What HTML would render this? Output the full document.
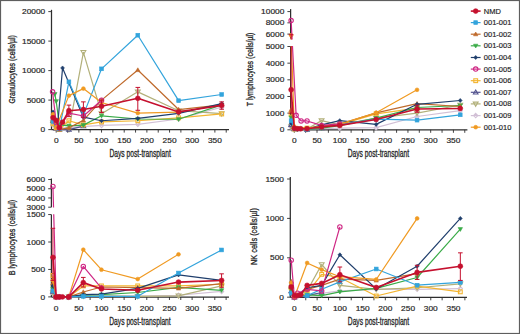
<!DOCTYPE html>
<html><head><meta charset="utf-8"><style>
html,body{margin:0;padding:0;background:#fff;}
body{width:520px;height:334px;overflow:hidden;}
svg{display:block;font-family:"Liberation Sans", sans-serif;}
</style></head><body>
<svg width="520" height="334" viewBox="0 0 520 334">
<rect x="0" y="0" width="520" height="334" fill="#fff"/>
<line x1="51.5" y1="9.799999999999994" x2="51.5" y2="129.6" stroke="#2e2e2e" stroke-width="1.25"/>
<line x1="48.3" y1="129.60" x2="51.5" y2="129.60" stroke="#2e2e2e" stroke-width="0.9"/>
<text transform="translate(45.20,132.25) scale(1.13,1)" x="0" y="0" font-size="7.4" text-anchor="end" fill="#262626" stroke="#262626" stroke-width="0.18">0</text>
<line x1="48.3" y1="100.10" x2="51.5" y2="100.10" stroke="#2e2e2e" stroke-width="0.9"/>
<text transform="translate(45.20,102.75) scale(1.13,1)" x="0" y="0" font-size="7.4" text-anchor="end" fill="#262626" stroke="#262626" stroke-width="0.18">5000</text>
<line x1="48.3" y1="70.60" x2="51.5" y2="70.60" stroke="#2e2e2e" stroke-width="0.9"/>
<text transform="translate(45.20,73.25) scale(1.13,1)" x="0" y="0" font-size="7.4" text-anchor="end" fill="#262626" stroke="#262626" stroke-width="0.18">10000</text>
<line x1="48.3" y1="41.10" x2="51.5" y2="41.10" stroke="#2e2e2e" stroke-width="0.9"/>
<text transform="translate(45.20,43.75) scale(1.13,1)" x="0" y="0" font-size="7.4" text-anchor="end" fill="#262626" stroke="#262626" stroke-width="0.18">15000</text>
<line x1="48.3" y1="11.60" x2="51.5" y2="11.60" stroke="#2e2e2e" stroke-width="0.9"/>
<text transform="translate(45.20,14.25) scale(1.13,1)" x="0" y="0" font-size="7.4" text-anchor="end" fill="#262626" stroke="#262626" stroke-width="0.18">20000</text>
<line x1="51.5" y1="129.6" x2="229" y2="129.6" stroke="#2e2e2e" stroke-width="1.25"/>
<line x1="56.20" y1="129.6" x2="56.20" y2="132.6" stroke="#2e2e2e" stroke-width="0.9"/>
<text transform="translate(56.20,143.3) scale(1.13,1)" x="0" y="0" font-size="7.4" text-anchor="middle" fill="#262626" stroke="#262626" stroke-width="0.18">0</text>
<line x1="67.53" y1="129.6" x2="67.53" y2="132.6" stroke="#2e2e2e" stroke-width="0.9"/>
<line x1="78.87" y1="129.6" x2="78.87" y2="132.6" stroke="#2e2e2e" stroke-width="0.9"/>
<text transform="translate(78.87,143.3) scale(1.13,1)" x="0" y="0" font-size="7.4" text-anchor="middle" fill="#262626" stroke="#262626" stroke-width="0.18">50</text>
<line x1="90.21" y1="129.6" x2="90.21" y2="132.6" stroke="#2e2e2e" stroke-width="0.9"/>
<line x1="101.54" y1="129.6" x2="101.54" y2="132.6" stroke="#2e2e2e" stroke-width="0.9"/>
<text transform="translate(101.54,143.3) scale(1.13,1)" x="0" y="0" font-size="7.4" text-anchor="middle" fill="#262626" stroke="#262626" stroke-width="0.18">100</text>
<line x1="112.88" y1="129.6" x2="112.88" y2="132.6" stroke="#2e2e2e" stroke-width="0.9"/>
<line x1="124.21" y1="129.6" x2="124.21" y2="132.6" stroke="#2e2e2e" stroke-width="0.9"/>
<text transform="translate(124.21,143.3) scale(1.13,1)" x="0" y="0" font-size="7.4" text-anchor="middle" fill="#262626" stroke="#262626" stroke-width="0.18">150</text>
<line x1="135.55" y1="129.6" x2="135.55" y2="132.6" stroke="#2e2e2e" stroke-width="0.9"/>
<line x1="146.88" y1="129.6" x2="146.88" y2="132.6" stroke="#2e2e2e" stroke-width="0.9"/>
<text transform="translate(146.88,143.3) scale(1.13,1)" x="0" y="0" font-size="7.4" text-anchor="middle" fill="#262626" stroke="#262626" stroke-width="0.18">200</text>
<line x1="158.22" y1="129.6" x2="158.22" y2="132.6" stroke="#2e2e2e" stroke-width="0.9"/>
<line x1="169.55" y1="129.6" x2="169.55" y2="132.6" stroke="#2e2e2e" stroke-width="0.9"/>
<text transform="translate(169.55,143.3) scale(1.13,1)" x="0" y="0" font-size="7.4" text-anchor="middle" fill="#262626" stroke="#262626" stroke-width="0.18">250</text>
<line x1="180.88" y1="129.6" x2="180.88" y2="132.6" stroke="#2e2e2e" stroke-width="0.9"/>
<line x1="192.22" y1="129.6" x2="192.22" y2="132.6" stroke="#2e2e2e" stroke-width="0.9"/>
<text transform="translate(192.22,143.3) scale(1.13,1)" x="0" y="0" font-size="7.4" text-anchor="middle" fill="#262626" stroke="#262626" stroke-width="0.18">300</text>
<line x1="203.56" y1="129.6" x2="203.56" y2="132.6" stroke="#2e2e2e" stroke-width="0.9"/>
<line x1="214.89" y1="129.6" x2="214.89" y2="132.6" stroke="#2e2e2e" stroke-width="0.9"/>
<text transform="translate(214.89,143.3) scale(1.13,1)" x="0" y="0" font-size="7.4" text-anchor="middle" fill="#262626" stroke="#262626" stroke-width="0.18">350</text>
<line x1="226.23" y1="129.6" x2="226.23" y2="132.6" stroke="#2e2e2e" stroke-width="0.9"/>
<text transform="translate(140.08,156.8) scale(0.6706652126499455,1)" x="0" y="0" font-size="10.0" text-anchor="middle" fill="#262626" stroke="#262626" stroke-width="0.3">Days post-transplant</text>
<text transform="translate(15.0,69.4) rotate(-90) scale(0.7680233210001122,1)" x="0" y="0" font-size="9.0" text-anchor="middle" fill="#262626" stroke="#262626" stroke-width="0.3">Granulocytes (cells/µl)</text>
<path d="M53.03,124.88 L56.20,128.42 L101.54,125.47 L137.81,124.29 L178.62,118.98 L221.69,107.18" fill="none" stroke="#d2c0d6" stroke-width="1.2" stroke-linejoin="round"/>
<path d="M53.03,122.67L55.13,124.88L53.03,127.08L50.93,124.88Z" fill="none" stroke="#d2c0d6" stroke-width="1.1"/>
<path d="M56.20,126.21L58.30,128.42L56.20,130.62L54.10,128.42Z" fill="none" stroke="#d2c0d6" stroke-width="1.1"/>
<path d="M101.54,123.27L103.64,125.47L101.54,127.67L99.44,125.47Z" fill="none" stroke="#d2c0d6" stroke-width="1.1"/>
<path d="M137.81,122.08L139.91,124.29L137.81,126.49L135.71,124.29Z" fill="none" stroke="#d2c0d6" stroke-width="1.1"/>
<path d="M178.62,116.77L180.72,118.98L178.62,121.18L176.52,118.98Z" fill="none" stroke="#d2c0d6" stroke-width="1.1"/>
<path d="M221.69,104.97L223.79,107.18L221.69,109.38L219.59,107.18Z" fill="none" stroke="#d2c0d6" stroke-width="1.1"/>
<path d="M53.03,122.52 L56.20,127.83 L68.90,129.60 L83.40,52.31 L101.54,113.67 L137.81,91.84 L178.62,110.72 L221.69,113.67" fill="none" stroke="#b2b07a" stroke-width="1.2" stroke-linejoin="round"/>
<path d="M53.03,124.94L55.45,120.76L50.61,120.76Z" fill="none" stroke="#b2b07a" stroke-width="1.1"/>
<path d="M56.20,130.25L58.62,126.07L53.78,126.07Z" fill="none" stroke="#b2b07a" stroke-width="1.1"/>
<path d="M68.90,132.02L71.32,127.84L66.48,127.84Z" fill="none" stroke="#b2b07a" stroke-width="1.1"/>
<path d="M83.40,54.73L85.82,50.55L80.98,50.55Z" fill="none" stroke="#b2b07a" stroke-width="1.1"/>
<path d="M101.54,116.09L103.96,111.91L99.12,111.91Z" fill="none" stroke="#b2b07a" stroke-width="1.1"/>
<path d="M137.81,94.26L140.23,90.08L135.39,90.08Z" fill="none" stroke="#b2b07a" stroke-width="1.1"/>
<path d="M178.62,113.14L181.04,108.96L176.20,108.96Z" fill="none" stroke="#b2b07a" stroke-width="1.1"/>
<path d="M221.69,116.09L224.11,111.91L219.27,111.91Z" fill="none" stroke="#b2b07a" stroke-width="1.1"/>
<path d="M53.03,120.75 L56.20,128.42 L59.37,129.60 L68.90,129.60 L83.40,126.06" fill="none" stroke="#55558f" stroke-width="1.2" stroke-linejoin="round"/>
<path d="M53.03,118.44L55.34,122.43L50.72,122.43Z" fill="none" stroke="#55558f" stroke-width="1.1"/>
<path d="M56.20,126.11L58.51,130.10L53.89,130.10Z" fill="none" stroke="#55558f" stroke-width="1.1"/>
<path d="M59.37,127.29L61.68,131.28L57.06,131.28Z" fill="none" stroke="#55558f" stroke-width="1.1"/>
<path d="M68.90,127.29L71.21,131.28L66.59,131.28Z" fill="none" stroke="#55558f" stroke-width="1.1"/>
<path d="M83.40,123.75L85.71,127.74L81.09,127.74Z" fill="none" stroke="#55558f" stroke-width="1.1"/>
<path d="M53.03,123.70 L56.20,127.83 L59.37,129.60 L68.90,120.75 L83.40,124.88 L101.54,121.93 L137.81,120.75 L178.62,117.80 L221.69,113.96" fill="none" stroke="#f3b531" stroke-width="1.2" stroke-linejoin="round"/>
<rect x="51.13" y="121.80" width="3.80" height="3.80" fill="none" stroke="#f3b531" stroke-width="1.1"/>
<rect x="54.30" y="125.93" width="3.80" height="3.80" fill="none" stroke="#f3b531" stroke-width="1.1"/>
<rect x="57.47" y="127.70" width="3.80" height="3.80" fill="none" stroke="#f3b531" stroke-width="1.1"/>
<rect x="67.00" y="118.85" width="3.80" height="3.80" fill="none" stroke="#f3b531" stroke-width="1.1"/>
<rect x="81.50" y="122.98" width="3.80" height="3.80" fill="none" stroke="#f3b531" stroke-width="1.1"/>
<rect x="99.64" y="120.03" width="3.80" height="3.80" fill="none" stroke="#f3b531" stroke-width="1.1"/>
<rect x="135.91" y="118.85" width="3.80" height="3.80" fill="none" stroke="#f3b531" stroke-width="1.1"/>
<rect x="176.72" y="115.90" width="3.80" height="3.80" fill="none" stroke="#f3b531" stroke-width="1.1"/>
<rect x="219.79" y="112.06" width="3.80" height="3.80" fill="none" stroke="#f3b531" stroke-width="1.1"/>
<path d="M54.84,94.20 L56.20,101.28 L59.37,124.88 L68.90,125.88 L83.40,125.12 L101.54,115.79 L137.81,118.98 L178.62,119.27 L221.69,104.82" fill="none" stroke="#3aab48" stroke-width="1.2" stroke-linejoin="round"/>
<path d="M54.84,96.40L57.04,92.60L52.64,92.60Z" fill="#3aab48" stroke="#3aab48" stroke-width="0.6"/>
<path d="M56.20,103.48L58.40,99.68L54.00,99.68Z" fill="#3aab48" stroke="#3aab48" stroke-width="0.6"/>
<path d="M59.37,127.08L61.57,123.28L57.17,123.28Z" fill="#3aab48" stroke="#3aab48" stroke-width="0.6"/>
<path d="M68.90,128.08L71.10,124.28L66.70,124.28Z" fill="#3aab48" stroke="#3aab48" stroke-width="0.6"/>
<path d="M83.40,127.32L85.60,123.52L81.20,123.52Z" fill="#3aab48" stroke="#3aab48" stroke-width="0.6"/>
<path d="M101.54,117.99L103.74,114.19L99.34,114.19Z" fill="#3aab48" stroke="#3aab48" stroke-width="0.6"/>
<path d="M137.81,121.18L140.01,117.38L135.61,117.38Z" fill="#3aab48" stroke="#3aab48" stroke-width="0.6"/>
<path d="M178.62,121.47L180.82,117.67L176.42,117.67Z" fill="#3aab48" stroke="#3aab48" stroke-width="0.6"/>
<path d="M221.69,107.02L223.89,103.22L219.49,103.22Z" fill="#3aab48" stroke="#3aab48" stroke-width="0.6"/>
<path d="M53.03,114.85 L56.20,124.88 L59.37,129.60 L68.90,127.83 L83.40,120.40 L101.54,100.10 L137.81,70.01 L178.62,109.54 L221.69,104.82" fill="none" stroke="#bf6a2c" stroke-width="1.2" stroke-linejoin="round"/>
<path d="M53.03,112.65L55.23,116.45L50.83,116.45Z" fill="#bf6a2c" stroke="#bf6a2c" stroke-width="0.6"/>
<path d="M56.20,122.68L58.40,126.48L54.00,126.48Z" fill="#bf6a2c" stroke="#bf6a2c" stroke-width="0.6"/>
<path d="M59.37,127.40L61.57,131.20L57.17,131.20Z" fill="#bf6a2c" stroke="#bf6a2c" stroke-width="0.6"/>
<path d="M68.90,125.63L71.10,129.43L66.70,129.43Z" fill="#bf6a2c" stroke="#bf6a2c" stroke-width="0.6"/>
<path d="M83.40,118.20L85.60,122.00L81.20,122.00Z" fill="#bf6a2c" stroke="#bf6a2c" stroke-width="0.6"/>
<path d="M101.54,97.90L103.74,101.70L99.34,101.70Z" fill="#bf6a2c" stroke="#bf6a2c" stroke-width="0.6"/>
<path d="M137.81,67.81L140.01,71.61L135.61,71.61Z" fill="#bf6a2c" stroke="#bf6a2c" stroke-width="0.6"/>
<path d="M178.62,107.34L180.82,111.14L176.42,111.14Z" fill="#bf6a2c" stroke="#bf6a2c" stroke-width="0.6"/>
<path d="M221.69,102.62L223.89,106.42L219.49,106.42Z" fill="#bf6a2c" stroke="#bf6a2c" stroke-width="0.6"/>
<path d="M53.03,111.90 L56.20,123.70 L57.56,126.65 L62.55,67.94 L83.40,117.21 L101.54,120.75 L137.81,118.39 L178.62,113.38 L221.69,103.64" fill="none" stroke="#1f3e6c" stroke-width="1.2" stroke-linejoin="round"/>
<path d="M53.03,109.90L54.93,111.90L53.03,113.89L51.13,111.90Z" fill="#1f3e6c" stroke="#1f3e6c" stroke-width="0.6"/>
<path d="M56.20,121.70L58.10,123.70L56.20,125.69L54.30,123.70Z" fill="#1f3e6c" stroke="#1f3e6c" stroke-width="0.6"/>
<path d="M57.56,124.65L59.46,126.65L57.56,128.64L55.66,126.65Z" fill="#1f3e6c" stroke="#1f3e6c" stroke-width="0.6"/>
<path d="M62.55,65.95L64.45,67.94L62.55,69.94L60.65,67.94Z" fill="#1f3e6c" stroke="#1f3e6c" stroke-width="0.6"/>
<path d="M83.40,115.21L85.30,117.21L83.40,119.20L81.50,117.21Z" fill="#1f3e6c" stroke="#1f3e6c" stroke-width="0.6"/>
<path d="M101.54,118.75L103.44,120.75L101.54,122.75L99.64,120.75Z" fill="#1f3e6c" stroke="#1f3e6c" stroke-width="0.6"/>
<path d="M137.81,116.39L139.71,118.39L137.81,120.39L135.91,118.39Z" fill="#1f3e6c" stroke="#1f3e6c" stroke-width="0.6"/>
<path d="M178.62,111.38L180.52,113.38L178.62,115.37L176.72,113.38Z" fill="#1f3e6c" stroke="#1f3e6c" stroke-width="0.6"/>
<path d="M221.69,101.64L223.59,103.64L221.69,105.63L219.79,103.64Z" fill="#1f3e6c" stroke="#1f3e6c" stroke-width="0.6"/>
<path d="M53.03,121.34 L56.20,126.06 L59.37,129.01 L68.90,81.81 L83.40,114.85 L101.54,68.83 L137.81,35.20 L178.62,100.69 L221.69,94.50" fill="none" stroke="#33a4dc" stroke-width="1.2" stroke-linejoin="round"/>
<rect x="51.13" y="119.44" width="3.80" height="3.80" fill="#33a4dc" stroke="#33a4dc" stroke-width="0.6"/>
<rect x="54.30" y="124.16" width="3.80" height="3.80" fill="#33a4dc" stroke="#33a4dc" stroke-width="0.6"/>
<rect x="57.47" y="127.11" width="3.80" height="3.80" fill="#33a4dc" stroke="#33a4dc" stroke-width="0.6"/>
<rect x="67.00" y="79.91" width="3.80" height="3.80" fill="#33a4dc" stroke="#33a4dc" stroke-width="0.6"/>
<rect x="81.50" y="112.95" width="3.80" height="3.80" fill="#33a4dc" stroke="#33a4dc" stroke-width="0.6"/>
<rect x="99.64" y="66.93" width="3.80" height="3.80" fill="#33a4dc" stroke="#33a4dc" stroke-width="0.6"/>
<rect x="135.91" y="33.30" width="3.80" height="3.80" fill="#33a4dc" stroke="#33a4dc" stroke-width="0.6"/>
<rect x="176.72" y="98.79" width="3.80" height="3.80" fill="#33a4dc" stroke="#33a4dc" stroke-width="0.6"/>
<rect x="219.79" y="92.59" width="3.80" height="3.80" fill="#33a4dc" stroke="#33a4dc" stroke-width="0.6"/>
<path d="M53.03,114.26 L56.20,127.24 L68.90,95.62 L83.40,88.59 L101.54,102.46 L137.81,113.08 L178.62,112.19" fill="none" stroke="#f09a22" stroke-width="1.2" stroke-linejoin="round"/>
<circle cx="53.03" cy="114.26" r="1.90" fill="#f09a22" stroke="#f09a22" stroke-width="0.6"/>
<circle cx="56.20" cy="127.24" r="1.90" fill="#f09a22" stroke="#f09a22" stroke-width="0.6"/>
<circle cx="68.90" cy="95.62" r="1.90" fill="#f09a22" stroke="#f09a22" stroke-width="0.6"/>
<circle cx="83.40" cy="88.59" r="1.90" fill="#f09a22" stroke="#f09a22" stroke-width="0.6"/>
<circle cx="101.54" cy="102.46" r="1.90" fill="#f09a22" stroke="#f09a22" stroke-width="0.6"/>
<circle cx="137.81" cy="113.08" r="1.90" fill="#f09a22" stroke="#f09a22" stroke-width="0.6"/>
<circle cx="178.62" cy="112.19" r="1.90" fill="#f09a22" stroke="#f09a22" stroke-width="0.6"/>
<path d="M52.57,91.84 L56.20,122.52 L59.37,127.83 L68.90,113.08 L83.40,116.03 L101.54,100.22" fill="none" stroke="#cf2784" stroke-width="1.2" stroke-linejoin="round"/>
<circle cx="52.57" cy="91.84" r="2.20" fill="none" stroke="#cf2784" stroke-width="1.1"/>
<circle cx="56.20" cy="122.52" r="2.20" fill="none" stroke="#cf2784" stroke-width="1.1"/>
<circle cx="59.37" cy="127.83" r="2.20" fill="none" stroke="#cf2784" stroke-width="1.1"/>
<circle cx="68.90" cy="113.08" r="2.20" fill="none" stroke="#cf2784" stroke-width="1.1"/>
<circle cx="83.40" cy="116.03" r="2.20" fill="none" stroke="#cf2784" stroke-width="1.1"/>
<circle cx="101.54" cy="100.22" r="2.20" fill="none" stroke="#cf2784" stroke-width="1.1"/>
<path d="M53.03,117.80 L56.20,120.45 L59.37,127.83 L62.55,122.22 L68.90,110.72 L83.40,109.54 L101.54,106.29 L137.81,98.33 L178.62,111.90 L221.69,105.41" fill="none" stroke="#c5102e" stroke-width="1.6" stroke-linejoin="round"/>
<path d="M68.90,116.62V105.11M66.60,105.11h4.6M66.60,116.62h4.6" stroke="#c5102e" stroke-width="1" fill="none"/>
<path d="M83.40,117.21V101.87M81.10,101.87h4.6M81.10,117.21h4.6" stroke="#c5102e" stroke-width="1" fill="none"/>
<path d="M101.54,112.49V100.10M99.24,100.10h4.6M99.24,112.49h4.6" stroke="#c5102e" stroke-width="1" fill="none"/>
<path d="M137.81,110.31V87.41M135.51,87.41h4.6M135.51,110.31h4.6" stroke="#c5102e" stroke-width="1" fill="none"/>
<path d="M221.69,109.24V101.87M219.39,101.87h4.6M219.39,109.24h4.6" stroke="#c5102e" stroke-width="1" fill="none"/>
<circle cx="53.03" cy="117.80" r="2.45" fill="#c5102e" stroke="#c5102e" stroke-width="0.6"/>
<circle cx="56.20" cy="120.45" r="2.45" fill="#c5102e" stroke="#c5102e" stroke-width="0.6"/>
<circle cx="59.37" cy="127.83" r="2.45" fill="#c5102e" stroke="#c5102e" stroke-width="0.6"/>
<circle cx="62.55" cy="122.22" r="2.45" fill="#c5102e" stroke="#c5102e" stroke-width="0.6"/>
<circle cx="68.90" cy="110.72" r="2.45" fill="#c5102e" stroke="#c5102e" stroke-width="0.6"/>
<circle cx="83.40" cy="109.54" r="2.45" fill="#c5102e" stroke="#c5102e" stroke-width="0.6"/>
<circle cx="101.54" cy="106.29" r="2.45" fill="#c5102e" stroke="#c5102e" stroke-width="0.6"/>
<circle cx="137.81" cy="98.33" r="2.45" fill="#c5102e" stroke="#c5102e" stroke-width="0.6"/>
<circle cx="178.62" cy="111.90" r="2.45" fill="#c5102e" stroke="#c5102e" stroke-width="0.6"/>
<circle cx="221.69" cy="105.41" r="2.45" fill="#c5102e" stroke="#c5102e" stroke-width="0.6"/>
<line x1="290.6" y1="9.080000000000002" x2="290.6" y2="38.5" stroke="#2e2e2e" stroke-width="1.25"/>
<line x1="290.6" y1="46.5" x2="290.6" y2="129.8" stroke="#2e2e2e" stroke-width="1.25"/>
<line x1="287.40000000000003" y1="129.80" x2="290.6" y2="129.80" stroke="#2e2e2e" stroke-width="0.9"/>
<text transform="translate(284.30,132.45) scale(1.13,1)" x="0" y="0" font-size="7.4" text-anchor="end" fill="#262626" stroke="#262626" stroke-width="0.18">0</text>
<line x1="287.40000000000003" y1="113.14" x2="290.6" y2="113.14" stroke="#2e2e2e" stroke-width="0.9"/>
<text transform="translate(284.30,115.79) scale(1.13,1)" x="0" y="0" font-size="7.4" text-anchor="end" fill="#262626" stroke="#262626" stroke-width="0.18">1000</text>
<line x1="287.40000000000003" y1="96.48" x2="290.6" y2="96.48" stroke="#2e2e2e" stroke-width="0.9"/>
<text transform="translate(284.30,99.13) scale(1.13,1)" x="0" y="0" font-size="7.4" text-anchor="end" fill="#262626" stroke="#262626" stroke-width="0.18">2000</text>
<line x1="287.40000000000003" y1="79.82" x2="290.6" y2="79.82" stroke="#2e2e2e" stroke-width="0.9"/>
<text transform="translate(284.30,82.47) scale(1.13,1)" x="0" y="0" font-size="7.4" text-anchor="end" fill="#262626" stroke="#262626" stroke-width="0.18">3000</text>
<line x1="287.40000000000003" y1="63.16" x2="290.6" y2="63.16" stroke="#2e2e2e" stroke-width="0.9"/>
<text transform="translate(284.30,65.81) scale(1.13,1)" x="0" y="0" font-size="7.4" text-anchor="end" fill="#262626" stroke="#262626" stroke-width="0.18">4000</text>
<line x1="287.40000000000003" y1="46.50" x2="290.6" y2="46.50" stroke="#2e2e2e" stroke-width="0.9"/>
<text transform="translate(284.30,49.15) scale(1.13,1)" x="0" y="0" font-size="7.4" text-anchor="end" fill="#262626" stroke="#262626" stroke-width="0.18">5000</text>
<line x1="287.40000000000003" y1="34.10" x2="290.6" y2="34.10" stroke="#2e2e2e" stroke-width="0.9"/>
<text transform="translate(284.30,36.75) scale(1.13,1)" x="0" y="0" font-size="7.4" text-anchor="end" fill="#262626" stroke="#262626" stroke-width="0.18">6000</text>
<line x1="287.40000000000003" y1="22.84" x2="290.6" y2="22.84" stroke="#2e2e2e" stroke-width="0.9"/>
<text transform="translate(284.30,25.49) scale(1.13,1)" x="0" y="0" font-size="7.4" text-anchor="end" fill="#262626" stroke="#262626" stroke-width="0.18">8000</text>
<line x1="287.40000000000003" y1="11.58" x2="290.6" y2="11.58" stroke="#2e2e2e" stroke-width="0.9"/>
<text transform="translate(284.30,14.23) scale(1.13,1)" x="0" y="0" font-size="7.4" text-anchor="end" fill="#262626" stroke="#262626" stroke-width="0.18">10000</text>
<line x1="290.6" y1="129.8" x2="467.4" y2="129.8" stroke="#2e2e2e" stroke-width="1.25"/>
<line x1="294.30" y1="129.8" x2="294.30" y2="132.8" stroke="#2e2e2e" stroke-width="0.9"/>
<text transform="translate(294.30,143.3) scale(1.13,1)" x="0" y="0" font-size="7.4" text-anchor="middle" fill="#262626" stroke="#262626" stroke-width="0.18">0</text>
<line x1="305.67" y1="129.8" x2="305.67" y2="132.8" stroke="#2e2e2e" stroke-width="0.9"/>
<line x1="317.03" y1="129.8" x2="317.03" y2="132.8" stroke="#2e2e2e" stroke-width="0.9"/>
<text transform="translate(317.03,143.3) scale(1.13,1)" x="0" y="0" font-size="7.4" text-anchor="middle" fill="#262626" stroke="#262626" stroke-width="0.18">50</text>
<line x1="328.39" y1="129.8" x2="328.39" y2="132.8" stroke="#2e2e2e" stroke-width="0.9"/>
<line x1="339.76" y1="129.8" x2="339.76" y2="132.8" stroke="#2e2e2e" stroke-width="0.9"/>
<text transform="translate(339.76,143.3) scale(1.13,1)" x="0" y="0" font-size="7.4" text-anchor="middle" fill="#262626" stroke="#262626" stroke-width="0.18">100</text>
<line x1="351.12" y1="129.8" x2="351.12" y2="132.8" stroke="#2e2e2e" stroke-width="0.9"/>
<line x1="362.49" y1="129.8" x2="362.49" y2="132.8" stroke="#2e2e2e" stroke-width="0.9"/>
<text transform="translate(362.49,143.3) scale(1.13,1)" x="0" y="0" font-size="7.4" text-anchor="middle" fill="#262626" stroke="#262626" stroke-width="0.18">150</text>
<line x1="373.86" y1="129.8" x2="373.86" y2="132.8" stroke="#2e2e2e" stroke-width="0.9"/>
<line x1="385.22" y1="129.8" x2="385.22" y2="132.8" stroke="#2e2e2e" stroke-width="0.9"/>
<text transform="translate(385.22,143.3) scale(1.13,1)" x="0" y="0" font-size="7.4" text-anchor="middle" fill="#262626" stroke="#262626" stroke-width="0.18">200</text>
<line x1="396.59" y1="129.8" x2="396.59" y2="132.8" stroke="#2e2e2e" stroke-width="0.9"/>
<line x1="407.95" y1="129.8" x2="407.95" y2="132.8" stroke="#2e2e2e" stroke-width="0.9"/>
<text transform="translate(407.95,143.3) scale(1.13,1)" x="0" y="0" font-size="7.4" text-anchor="middle" fill="#262626" stroke="#262626" stroke-width="0.18">250</text>
<line x1="419.31" y1="129.8" x2="419.31" y2="132.8" stroke="#2e2e2e" stroke-width="0.9"/>
<line x1="430.68" y1="129.8" x2="430.68" y2="132.8" stroke="#2e2e2e" stroke-width="0.9"/>
<text transform="translate(430.68,143.3) scale(1.13,1)" x="0" y="0" font-size="7.4" text-anchor="middle" fill="#262626" stroke="#262626" stroke-width="0.18">300</text>
<line x1="442.05" y1="129.8" x2="442.05" y2="132.8" stroke="#2e2e2e" stroke-width="0.9"/>
<line x1="453.41" y1="129.8" x2="453.41" y2="132.8" stroke="#2e2e2e" stroke-width="0.9"/>
<text transform="translate(453.41,143.3) scale(1.13,1)" x="0" y="0" font-size="7.4" text-anchor="middle" fill="#262626" stroke="#262626" stroke-width="0.18">350</text>
<line x1="464.77" y1="129.8" x2="464.77" y2="132.8" stroke="#2e2e2e" stroke-width="0.9"/>
<text transform="translate(378.40,156.8) scale(0.6706652126499455,1)" x="0" y="0" font-size="10.0" text-anchor="middle" fill="#262626" stroke="#262626" stroke-width="0.3">Days post-transplant</text>
<text transform="translate(252.6,69.4) rotate(-90) scale(0.7836257309941521,1)" x="0" y="0" font-size="9.0" text-anchor="middle" fill="#262626" stroke="#262626" stroke-width="0.3">T lymphocytes (cells/µl)</text>
<clipPath id="ctr"><rect x="260" y="0" width="210" height="39.4"/><rect x="260" y="46.0" width="210" height="114.0"/></clipPath>
<g clip-path="url(#ctr)">
<path d="M291.12,127.30 L294.30,129.47 L339.76,128.13 L376.13,127.63 L417.04,116.47 L460.23,110.64" fill="none" stroke="#d2c0d6" stroke-width="1.2" stroke-linejoin="round"/>
<path d="M291.12,125.10L293.22,127.30L291.12,129.51L289.02,127.30Z" fill="none" stroke="#d2c0d6" stroke-width="1.1"/>
<path d="M294.30,127.26L296.40,129.47L294.30,131.67L292.20,129.47Z" fill="none" stroke="#d2c0d6" stroke-width="1.1"/>
<path d="M339.76,125.93L341.86,128.13L339.76,130.34L337.66,128.13Z" fill="none" stroke="#d2c0d6" stroke-width="1.1"/>
<path d="M376.13,125.43L378.23,127.63L376.13,129.84L374.03,127.63Z" fill="none" stroke="#d2c0d6" stroke-width="1.1"/>
<path d="M417.04,114.27L419.14,116.47L417.04,118.68L414.94,116.47Z" fill="none" stroke="#d2c0d6" stroke-width="1.1"/>
<path d="M460.23,108.44L462.33,110.64L460.23,112.85L458.13,110.64Z" fill="none" stroke="#d2c0d6" stroke-width="1.1"/>
<path d="M291.12,126.47 L294.30,129.30 L307.03,128.97 L321.58,120.64 L339.76,124.80 L376.13,118.14 L417.04,113.14 L460.23,104.98" fill="none" stroke="#b2b07a" stroke-width="1.2" stroke-linejoin="round"/>
<path d="M291.12,128.89L293.54,124.71L288.70,124.71Z" fill="none" stroke="#b2b07a" stroke-width="1.1"/>
<path d="M294.30,131.72L296.72,127.54L291.88,127.54Z" fill="none" stroke="#b2b07a" stroke-width="1.1"/>
<path d="M307.03,131.39L309.45,127.21L304.61,127.21Z" fill="none" stroke="#b2b07a" stroke-width="1.1"/>
<path d="M321.58,123.06L324.00,118.88L319.16,118.88Z" fill="none" stroke="#b2b07a" stroke-width="1.1"/>
<path d="M339.76,127.22L342.18,123.04L337.34,123.04Z" fill="none" stroke="#b2b07a" stroke-width="1.1"/>
<path d="M376.13,120.56L378.55,116.38L373.71,116.38Z" fill="none" stroke="#b2b07a" stroke-width="1.1"/>
<path d="M417.04,115.56L419.46,111.38L414.62,111.38Z" fill="none" stroke="#b2b07a" stroke-width="1.1"/>
<path d="M460.23,107.40L462.65,103.22L457.81,103.22Z" fill="none" stroke="#b2b07a" stroke-width="1.1"/>
<path d="M291.12,124.80 L294.30,129.13 L307.03,129.47 L321.58,128.13" fill="none" stroke="#55558f" stroke-width="1.2" stroke-linejoin="round"/>
<path d="M291.12,122.49L293.43,126.48L288.81,126.48Z" fill="none" stroke="#55558f" stroke-width="1.1"/>
<path d="M294.30,126.82L296.61,130.81L291.99,130.81Z" fill="none" stroke="#55558f" stroke-width="1.1"/>
<path d="M307.03,127.16L309.34,131.15L304.72,131.15Z" fill="none" stroke="#55558f" stroke-width="1.1"/>
<path d="M321.58,125.82L323.89,129.81L319.27,129.81Z" fill="none" stroke="#55558f" stroke-width="1.1"/>
<path d="M291.12,113.81 L294.30,128.97 L307.03,128.13 L321.58,126.47 L339.76,124.80 L376.13,113.81 L417.04,108.14" fill="none" stroke="#f3b531" stroke-width="1.2" stroke-linejoin="round"/>
<rect x="289.22" y="111.91" width="3.80" height="3.80" fill="none" stroke="#f3b531" stroke-width="1.1"/>
<rect x="292.40" y="127.07" width="3.80" height="3.80" fill="none" stroke="#f3b531" stroke-width="1.1"/>
<rect x="305.13" y="126.23" width="3.80" height="3.80" fill="none" stroke="#f3b531" stroke-width="1.1"/>
<rect x="319.68" y="124.57" width="3.80" height="3.80" fill="none" stroke="#f3b531" stroke-width="1.1"/>
<rect x="337.86" y="122.90" width="3.80" height="3.80" fill="none" stroke="#f3b531" stroke-width="1.1"/>
<rect x="374.23" y="111.91" width="3.80" height="3.80" fill="none" stroke="#f3b531" stroke-width="1.1"/>
<rect x="415.14" y="106.24" width="3.80" height="3.80" fill="none" stroke="#f3b531" stroke-width="1.1"/>
<path d="M291.12,117.64 L294.30,128.80 L297.48,129.13 L307.03,129.30 L321.58,128.13 L339.76,125.64 L376.13,118.14 L417.04,107.48 L460.23,105.48" fill="none" stroke="#3aab48" stroke-width="1.2" stroke-linejoin="round"/>
<path d="M291.12,119.84L293.32,116.04L288.92,116.04Z" fill="#3aab48" stroke="#3aab48" stroke-width="0.6"/>
<path d="M294.30,131.00L296.50,127.20L292.10,127.20Z" fill="#3aab48" stroke="#3aab48" stroke-width="0.6"/>
<path d="M297.48,131.33L299.68,127.53L295.28,127.53Z" fill="#3aab48" stroke="#3aab48" stroke-width="0.6"/>
<path d="M307.03,131.50L309.23,127.70L304.83,127.70Z" fill="#3aab48" stroke="#3aab48" stroke-width="0.6"/>
<path d="M321.58,130.33L323.78,126.53L319.38,126.53Z" fill="#3aab48" stroke="#3aab48" stroke-width="0.6"/>
<path d="M339.76,127.84L341.96,124.04L337.56,124.04Z" fill="#3aab48" stroke="#3aab48" stroke-width="0.6"/>
<path d="M376.13,120.34L378.33,116.54L373.93,116.54Z" fill="#3aab48" stroke="#3aab48" stroke-width="0.6"/>
<path d="M417.04,109.68L419.24,105.88L414.84,105.88Z" fill="#3aab48" stroke="#3aab48" stroke-width="0.6"/>
<path d="M460.23,107.68L462.43,103.88L458.03,103.88Z" fill="#3aab48" stroke="#3aab48" stroke-width="0.6"/>
<path d="M291.12,109.81 L294.30,128.47 L297.48,128.97 L307.03,128.97 L321.58,127.30 L339.76,123.97 L376.13,112.81 L417.04,103.64 L460.23,106.48" fill="none" stroke="#bf6a2c" stroke-width="1.2" stroke-linejoin="round"/>
<path d="M291.12,107.61L293.32,111.41L288.92,111.41Z" fill="#bf6a2c" stroke="#bf6a2c" stroke-width="0.6"/>
<path d="M294.30,126.27L296.50,130.07L292.10,130.07Z" fill="#bf6a2c" stroke="#bf6a2c" stroke-width="0.6"/>
<path d="M297.48,126.77L299.68,130.57L295.28,130.57Z" fill="#bf6a2c" stroke="#bf6a2c" stroke-width="0.6"/>
<path d="M307.03,126.77L309.23,130.57L304.83,130.57Z" fill="#bf6a2c" stroke="#bf6a2c" stroke-width="0.6"/>
<path d="M321.58,125.10L323.78,128.90L319.38,128.90Z" fill="#bf6a2c" stroke="#bf6a2c" stroke-width="0.6"/>
<path d="M339.76,121.77L341.96,125.57L337.56,125.57Z" fill="#bf6a2c" stroke="#bf6a2c" stroke-width="0.6"/>
<path d="M376.13,110.61L378.33,114.41L373.93,114.41Z" fill="#bf6a2c" stroke="#bf6a2c" stroke-width="0.6"/>
<path d="M417.04,101.44L419.24,105.24L414.84,105.24Z" fill="#bf6a2c" stroke="#bf6a2c" stroke-width="0.6"/>
<path d="M460.23,104.28L462.43,108.08L458.03,108.08Z" fill="#bf6a2c" stroke="#bf6a2c" stroke-width="0.6"/>
<path d="M291.12,123.14 L294.30,128.97 L297.48,129.30 L307.03,128.97 L321.58,124.80 L339.76,120.64 L376.13,124.39 L417.04,104.31 L460.23,100.48" fill="none" stroke="#1f3e6c" stroke-width="1.2" stroke-linejoin="round"/>
<path d="M291.12,121.14L293.02,123.14L291.12,125.13L289.22,123.14Z" fill="#1f3e6c" stroke="#1f3e6c" stroke-width="0.6"/>
<path d="M294.30,126.97L296.20,128.97L294.30,130.96L292.40,128.97Z" fill="#1f3e6c" stroke="#1f3e6c" stroke-width="0.6"/>
<path d="M297.48,127.31L299.38,129.30L297.48,131.30L295.58,129.30Z" fill="#1f3e6c" stroke="#1f3e6c" stroke-width="0.6"/>
<path d="M307.03,126.97L308.93,128.97L307.03,130.96L305.13,128.97Z" fill="#1f3e6c" stroke="#1f3e6c" stroke-width="0.6"/>
<path d="M321.58,122.81L323.48,124.80L321.58,126.80L319.68,124.80Z" fill="#1f3e6c" stroke="#1f3e6c" stroke-width="0.6"/>
<path d="M339.76,118.64L341.66,120.64L339.76,122.63L337.86,120.64Z" fill="#1f3e6c" stroke="#1f3e6c" stroke-width="0.6"/>
<path d="M376.13,122.39L378.03,124.39L376.13,126.38L374.23,124.39Z" fill="#1f3e6c" stroke="#1f3e6c" stroke-width="0.6"/>
<path d="M417.04,102.32L418.94,104.31L417.04,106.31L415.14,104.31Z" fill="#1f3e6c" stroke="#1f3e6c" stroke-width="0.6"/>
<path d="M460.23,98.48L462.13,100.48L460.23,102.47L458.33,100.48Z" fill="#1f3e6c" stroke="#1f3e6c" stroke-width="0.6"/>
<path d="M291.12,120.64 L294.30,128.13 L297.48,128.97 L307.03,129.30 L321.58,126.47 L339.76,124.80 L376.13,119.14 L417.04,120.14 L460.23,114.81" fill="none" stroke="#33a4dc" stroke-width="1.2" stroke-linejoin="round"/>
<rect x="289.22" y="118.74" width="3.80" height="3.80" fill="#33a4dc" stroke="#33a4dc" stroke-width="0.6"/>
<rect x="292.40" y="126.23" width="3.80" height="3.80" fill="#33a4dc" stroke="#33a4dc" stroke-width="0.6"/>
<rect x="295.58" y="127.07" width="3.80" height="3.80" fill="#33a4dc" stroke="#33a4dc" stroke-width="0.6"/>
<rect x="305.13" y="127.40" width="3.80" height="3.80" fill="#33a4dc" stroke="#33a4dc" stroke-width="0.6"/>
<rect x="319.68" y="124.57" width="3.80" height="3.80" fill="#33a4dc" stroke="#33a4dc" stroke-width="0.6"/>
<rect x="337.86" y="122.90" width="3.80" height="3.80" fill="#33a4dc" stroke="#33a4dc" stroke-width="0.6"/>
<rect x="374.23" y="117.24" width="3.80" height="3.80" fill="#33a4dc" stroke="#33a4dc" stroke-width="0.6"/>
<rect x="415.14" y="118.24" width="3.80" height="3.80" fill="#33a4dc" stroke="#33a4dc" stroke-width="0.6"/>
<rect x="458.33" y="112.91" width="3.80" height="3.80" fill="#33a4dc" stroke="#33a4dc" stroke-width="0.6"/>
<path d="M291.12,35.23 L294.30,126.47 L307.03,128.13 L321.58,126.47 L339.76,123.97 L376.13,112.81 L417.04,89.82" fill="none" stroke="#f09a22" stroke-width="1.2" stroke-linejoin="round"/>
<circle cx="291.12" cy="35.23" r="1.90" fill="#f09a22" stroke="#f09a22" stroke-width="0.6"/>
<circle cx="294.30" cy="126.47" r="1.90" fill="#f09a22" stroke="#f09a22" stroke-width="0.6"/>
<circle cx="307.03" cy="128.13" r="1.90" fill="#f09a22" stroke="#f09a22" stroke-width="0.6"/>
<circle cx="321.58" cy="126.47" r="1.90" fill="#f09a22" stroke="#f09a22" stroke-width="0.6"/>
<circle cx="339.76" cy="123.97" r="1.90" fill="#f09a22" stroke="#f09a22" stroke-width="0.6"/>
<circle cx="376.13" cy="112.81" r="1.90" fill="#f09a22" stroke="#f09a22" stroke-width="0.6"/>
<circle cx="417.04" cy="89.82" r="1.90" fill="#f09a22" stroke="#f09a22" stroke-width="0.6"/>
<path d="M291.12,20.59 L296.12,115.31 L301.12,120.97 L307.03,120.97 L321.58,125.39 L339.76,123.97" fill="none" stroke="#cf2784" stroke-width="1.2" stroke-linejoin="round"/>
<circle cx="291.12" cy="20.59" r="2.20" fill="none" stroke="#cf2784" stroke-width="1.1"/>
<circle cx="296.12" cy="115.31" r="2.20" fill="none" stroke="#cf2784" stroke-width="1.1"/>
<circle cx="301.12" cy="120.97" r="2.20" fill="none" stroke="#cf2784" stroke-width="1.1"/>
<circle cx="307.03" cy="120.97" r="2.20" fill="none" stroke="#cf2784" stroke-width="1.1"/>
<circle cx="321.58" cy="125.39" r="2.20" fill="none" stroke="#cf2784" stroke-width="1.1"/>
<circle cx="339.76" cy="123.97" r="2.20" fill="none" stroke="#cf2784" stroke-width="1.1"/>
<path d="M291.12,89.82 L294.30,128.30 L297.48,128.80 L300.66,128.80 L307.03,128.80 L321.58,126.88 L339.76,125.39 L376.13,119.47 L417.04,108.98 L460.23,108.48" fill="none" stroke="#c5102e" stroke-width="1.6" stroke-linejoin="round"/>
<path d="M291.12,113.14V34.66M288.82,34.66h4.6M288.82,113.14h4.6" stroke="#c5102e" stroke-width="1" fill="none"/>
<path d="M417.04,112.31V105.14M414.74,105.14h4.6M414.74,112.31h4.6" stroke="#c5102e" stroke-width="1" fill="none"/>
<circle cx="291.12" cy="89.82" r="2.45" fill="#c5102e" stroke="#c5102e" stroke-width="0.6"/>
<circle cx="294.30" cy="128.30" r="2.45" fill="#c5102e" stroke="#c5102e" stroke-width="0.6"/>
<circle cx="297.48" cy="128.80" r="2.45" fill="#c5102e" stroke="#c5102e" stroke-width="0.6"/>
<circle cx="300.66" cy="128.80" r="2.45" fill="#c5102e" stroke="#c5102e" stroke-width="0.6"/>
<circle cx="307.03" cy="128.80" r="2.45" fill="#c5102e" stroke="#c5102e" stroke-width="0.6"/>
<circle cx="321.58" cy="126.88" r="2.45" fill="#c5102e" stroke="#c5102e" stroke-width="0.6"/>
<circle cx="339.76" cy="125.39" r="2.45" fill="#c5102e" stroke="#c5102e" stroke-width="0.6"/>
<circle cx="376.13" cy="119.47" r="2.45" fill="#c5102e" stroke="#c5102e" stroke-width="0.6"/>
<circle cx="417.04" cy="108.98" r="2.45" fill="#c5102e" stroke="#c5102e" stroke-width="0.6"/>
<circle cx="460.23" cy="108.48" r="2.45" fill="#c5102e" stroke="#c5102e" stroke-width="0.6"/>
</g>
<line x1="51.4" y1="178.51" x2="51.4" y2="207.2" stroke="#2e2e2e" stroke-width="1.25"/>
<line x1="51.4" y1="214.54999999999998" x2="51.4" y2="297.0" stroke="#2e2e2e" stroke-width="1.25"/>
<line x1="48.199999999999996" y1="296.90" x2="51.4" y2="296.90" stroke="#2e2e2e" stroke-width="0.9"/>
<text transform="translate(45.10,299.55) scale(1.13,1)" x="0" y="0" font-size="7.4" text-anchor="end" fill="#262626" stroke="#262626" stroke-width="0.18">0</text>
<line x1="48.199999999999996" y1="269.45" x2="51.4" y2="269.45" stroke="#2e2e2e" stroke-width="0.9"/>
<text transform="translate(45.10,272.10) scale(1.13,1)" x="0" y="0" font-size="7.4" text-anchor="end" fill="#262626" stroke="#262626" stroke-width="0.18">500</text>
<line x1="48.199999999999996" y1="242.00" x2="51.4" y2="242.00" stroke="#2e2e2e" stroke-width="0.9"/>
<text transform="translate(45.10,244.65) scale(1.13,1)" x="0" y="0" font-size="7.4" text-anchor="end" fill="#262626" stroke="#262626" stroke-width="0.18">1000</text>
<line x1="48.199999999999996" y1="214.55" x2="51.4" y2="214.55" stroke="#2e2e2e" stroke-width="0.9"/>
<text transform="translate(45.10,217.20) scale(1.13,1)" x="0" y="0" font-size="7.4" text-anchor="end" fill="#262626" stroke="#262626" stroke-width="0.18">1500</text>
<line x1="48.199999999999996" y1="207.20" x2="51.4" y2="207.20" stroke="#2e2e2e" stroke-width="0.9"/>
<text transform="translate(45.10,209.85) scale(1.13,1)" x="0" y="0" font-size="7.4" text-anchor="end" fill="#262626" stroke="#262626" stroke-width="0.18">3000</text>
<line x1="48.199999999999996" y1="197.97" x2="51.4" y2="197.97" stroke="#2e2e2e" stroke-width="0.9"/>
<text transform="translate(45.10,200.62) scale(1.13,1)" x="0" y="0" font-size="7.4" text-anchor="end" fill="#262626" stroke="#262626" stroke-width="0.18">4000</text>
<line x1="48.199999999999996" y1="188.74" x2="51.4" y2="188.74" stroke="#2e2e2e" stroke-width="0.9"/>
<text transform="translate(45.10,191.39) scale(1.13,1)" x="0" y="0" font-size="7.4" text-anchor="end" fill="#262626" stroke="#262626" stroke-width="0.18">5000</text>
<line x1="48.199999999999996" y1="179.51" x2="51.4" y2="179.51" stroke="#2e2e2e" stroke-width="0.9"/>
<text transform="translate(45.10,182.16) scale(1.13,1)" x="0" y="0" font-size="7.4" text-anchor="end" fill="#262626" stroke="#262626" stroke-width="0.18">6000</text>
<line x1="51.4" y1="297.0" x2="229" y2="297.0" stroke="#2e2e2e" stroke-width="1.25"/>
<line x1="56.10" y1="297.0" x2="56.10" y2="300.0" stroke="#2e2e2e" stroke-width="0.9"/>
<text transform="translate(56.10,311.3) scale(1.13,1)" x="0" y="0" font-size="7.4" text-anchor="middle" fill="#262626" stroke="#262626" stroke-width="0.18">0</text>
<line x1="67.44" y1="297.0" x2="67.44" y2="300.0" stroke="#2e2e2e" stroke-width="0.9"/>
<line x1="78.77" y1="297.0" x2="78.77" y2="300.0" stroke="#2e2e2e" stroke-width="0.9"/>
<text transform="translate(78.77,311.3) scale(1.13,1)" x="0" y="0" font-size="7.4" text-anchor="middle" fill="#262626" stroke="#262626" stroke-width="0.18">50</text>
<line x1="90.11" y1="297.0" x2="90.11" y2="300.0" stroke="#2e2e2e" stroke-width="0.9"/>
<line x1="101.44" y1="297.0" x2="101.44" y2="300.0" stroke="#2e2e2e" stroke-width="0.9"/>
<text transform="translate(101.44,311.3) scale(1.13,1)" x="0" y="0" font-size="7.4" text-anchor="middle" fill="#262626" stroke="#262626" stroke-width="0.18">100</text>
<line x1="112.78" y1="297.0" x2="112.78" y2="300.0" stroke="#2e2e2e" stroke-width="0.9"/>
<line x1="124.11" y1="297.0" x2="124.11" y2="300.0" stroke="#2e2e2e" stroke-width="0.9"/>
<text transform="translate(124.11,311.3) scale(1.13,1)" x="0" y="0" font-size="7.4" text-anchor="middle" fill="#262626" stroke="#262626" stroke-width="0.18">150</text>
<line x1="135.44" y1="297.0" x2="135.44" y2="300.0" stroke="#2e2e2e" stroke-width="0.9"/>
<line x1="146.78" y1="297.0" x2="146.78" y2="300.0" stroke="#2e2e2e" stroke-width="0.9"/>
<text transform="translate(146.78,311.3) scale(1.13,1)" x="0" y="0" font-size="7.4" text-anchor="middle" fill="#262626" stroke="#262626" stroke-width="0.18">200</text>
<line x1="158.12" y1="297.0" x2="158.12" y2="300.0" stroke="#2e2e2e" stroke-width="0.9"/>
<line x1="169.45" y1="297.0" x2="169.45" y2="300.0" stroke="#2e2e2e" stroke-width="0.9"/>
<text transform="translate(169.45,311.3) scale(1.13,1)" x="0" y="0" font-size="7.4" text-anchor="middle" fill="#262626" stroke="#262626" stroke-width="0.18">250</text>
<line x1="180.78" y1="297.0" x2="180.78" y2="300.0" stroke="#2e2e2e" stroke-width="0.9"/>
<line x1="192.12" y1="297.0" x2="192.12" y2="300.0" stroke="#2e2e2e" stroke-width="0.9"/>
<text transform="translate(192.12,311.3) scale(1.13,1)" x="0" y="0" font-size="7.4" text-anchor="middle" fill="#262626" stroke="#262626" stroke-width="0.18">300</text>
<line x1="203.46" y1="297.0" x2="203.46" y2="300.0" stroke="#2e2e2e" stroke-width="0.9"/>
<line x1="214.79" y1="297.0" x2="214.79" y2="300.0" stroke="#2e2e2e" stroke-width="0.9"/>
<text transform="translate(214.79,311.3) scale(1.13,1)" x="0" y="0" font-size="7.4" text-anchor="middle" fill="#262626" stroke="#262626" stroke-width="0.18">350</text>
<line x1="226.12" y1="297.0" x2="226.12" y2="300.0" stroke="#2e2e2e" stroke-width="0.9"/>
<text transform="translate(139.98,325.0) scale(0.6706652126499455,1)" x="0" y="0" font-size="10.0" text-anchor="middle" fill="#262626" stroke="#262626" stroke-width="0.3">Days post-transplant</text>
<text transform="translate(15.0,237.5) rotate(-90) scale(0.7974228981833545,1)" x="0" y="0" font-size="9.0" text-anchor="middle" fill="#262626" stroke="#262626" stroke-width="0.3">B lymphocytes (cells/µl)</text>
<clipPath id="cbl"><rect x="20" y="168" width="220" height="39.599999999999994"/><rect x="20" y="214.2" width="220" height="115.80000000000001"/></clipPath>
<g clip-path="url(#cbl)">
<path d="M52.93,293.61 L56.10,296.90 L101.44,296.35 L137.71,296.08 L178.52,295.25 L221.59,291.41" fill="none" stroke="#d2c0d6" stroke-width="1.2" stroke-linejoin="round"/>
<path d="M52.93,291.40L55.03,293.61L52.93,295.81L50.83,293.61Z" fill="none" stroke="#d2c0d6" stroke-width="1.1"/>
<path d="M56.10,294.69L58.20,296.90L56.10,299.10L54.00,296.90Z" fill="none" stroke="#d2c0d6" stroke-width="1.1"/>
<path d="M101.44,294.15L103.54,296.35L101.44,298.56L99.34,296.35Z" fill="none" stroke="#d2c0d6" stroke-width="1.1"/>
<path d="M137.71,293.87L139.81,296.08L137.71,298.28L135.61,296.08Z" fill="none" stroke="#d2c0d6" stroke-width="1.1"/>
<path d="M178.52,293.05L180.62,295.25L178.52,297.46L176.42,295.25Z" fill="none" stroke="#d2c0d6" stroke-width="1.1"/>
<path d="M221.59,289.20L223.69,291.41L221.59,293.61L219.49,291.41Z" fill="none" stroke="#d2c0d6" stroke-width="1.1"/>
<path d="M52.93,292.51 L56.10,296.90 L68.80,296.90 L83.30,296.08 L101.44,295.80 L137.71,296.35 L178.52,295.80 L221.59,285.92" fill="none" stroke="#b2b07a" stroke-width="1.2" stroke-linejoin="round"/>
<path d="M52.93,294.93L55.35,290.75L50.51,290.75Z" fill="none" stroke="#b2b07a" stroke-width="1.1"/>
<path d="M56.10,299.32L58.52,295.14L53.68,295.14Z" fill="none" stroke="#b2b07a" stroke-width="1.1"/>
<path d="M68.80,299.32L71.22,295.14L66.38,295.14Z" fill="none" stroke="#b2b07a" stroke-width="1.1"/>
<path d="M83.30,298.50L85.72,294.32L80.88,294.32Z" fill="none" stroke="#b2b07a" stroke-width="1.1"/>
<path d="M101.44,298.22L103.86,294.04L99.02,294.04Z" fill="none" stroke="#b2b07a" stroke-width="1.1"/>
<path d="M137.71,298.77L140.13,294.59L135.29,294.59Z" fill="none" stroke="#b2b07a" stroke-width="1.1"/>
<path d="M178.52,298.22L180.94,294.04L176.10,294.04Z" fill="none" stroke="#b2b07a" stroke-width="1.1"/>
<path d="M221.59,288.34L224.01,284.16L219.17,284.16Z" fill="none" stroke="#b2b07a" stroke-width="1.1"/>
<path d="M52.93,291.41 L56.10,296.90 L68.80,296.90 L83.30,295.80" fill="none" stroke="#55558f" stroke-width="1.2" stroke-linejoin="round"/>
<path d="M52.93,289.10L55.24,293.09L50.62,293.09Z" fill="none" stroke="#55558f" stroke-width="1.1"/>
<path d="M56.10,294.59L58.41,298.58L53.79,298.58Z" fill="none" stroke="#55558f" stroke-width="1.1"/>
<path d="M68.80,294.59L71.11,298.58L66.49,298.58Z" fill="none" stroke="#55558f" stroke-width="1.1"/>
<path d="M83.30,293.49L85.61,297.48L80.99,297.48Z" fill="none" stroke="#55558f" stroke-width="1.1"/>
<path d="M52.93,275.49 L56.10,296.90 L68.80,296.90 L83.30,285.92 L101.44,285.92 L137.71,285.92 L178.52,285.92 L221.59,284.27" fill="none" stroke="#f3b531" stroke-width="1.2" stroke-linejoin="round"/>
<rect x="51.03" y="273.59" width="3.80" height="3.80" fill="none" stroke="#f3b531" stroke-width="1.1"/>
<rect x="54.20" y="295.00" width="3.80" height="3.80" fill="none" stroke="#f3b531" stroke-width="1.1"/>
<rect x="66.90" y="295.00" width="3.80" height="3.80" fill="none" stroke="#f3b531" stroke-width="1.1"/>
<rect x="81.40" y="284.02" width="3.80" height="3.80" fill="none" stroke="#f3b531" stroke-width="1.1"/>
<rect x="99.54" y="284.02" width="3.80" height="3.80" fill="none" stroke="#f3b531" stroke-width="1.1"/>
<rect x="135.81" y="284.02" width="3.80" height="3.80" fill="none" stroke="#f3b531" stroke-width="1.1"/>
<rect x="176.62" y="284.02" width="3.80" height="3.80" fill="none" stroke="#f3b531" stroke-width="1.1"/>
<rect x="219.69" y="282.37" width="3.80" height="3.80" fill="none" stroke="#f3b531" stroke-width="1.1"/>
<path d="M52.93,288.66 L56.10,296.90 L68.80,296.90 L83.30,295.25 L101.44,294.70 L137.71,292.51 L178.52,287.29 L221.59,290.31" fill="none" stroke="#3aab48" stroke-width="1.2" stroke-linejoin="round"/>
<path d="M52.93,290.86L55.13,287.06L50.73,287.06Z" fill="#3aab48" stroke="#3aab48" stroke-width="0.6"/>
<path d="M56.10,299.10L58.30,295.30L53.90,295.30Z" fill="#3aab48" stroke="#3aab48" stroke-width="0.6"/>
<path d="M68.80,299.10L71.00,295.30L66.60,295.30Z" fill="#3aab48" stroke="#3aab48" stroke-width="0.6"/>
<path d="M83.30,297.45L85.50,293.65L81.10,293.65Z" fill="#3aab48" stroke="#3aab48" stroke-width="0.6"/>
<path d="M101.44,296.90L103.64,293.10L99.24,293.10Z" fill="#3aab48" stroke="#3aab48" stroke-width="0.6"/>
<path d="M137.71,294.71L139.91,290.91L135.51,290.91Z" fill="#3aab48" stroke="#3aab48" stroke-width="0.6"/>
<path d="M178.52,289.49L180.72,285.69L176.32,285.69Z" fill="#3aab48" stroke="#3aab48" stroke-width="0.6"/>
<path d="M221.59,292.51L223.79,288.71L219.39,288.71Z" fill="#3aab48" stroke="#3aab48" stroke-width="0.6"/>
<path d="M52.93,283.17 L56.10,296.90 L68.80,296.90 L83.30,291.96 L101.44,287.02 L137.71,287.57 L178.52,288.39 L221.59,283.72" fill="none" stroke="#bf6a2c" stroke-width="1.2" stroke-linejoin="round"/>
<path d="M52.93,280.97L55.13,284.77L50.73,284.77Z" fill="#bf6a2c" stroke="#bf6a2c" stroke-width="0.6"/>
<path d="M56.10,294.70L58.30,298.50L53.90,298.50Z" fill="#bf6a2c" stroke="#bf6a2c" stroke-width="0.6"/>
<path d="M68.80,294.70L71.00,298.50L66.60,298.50Z" fill="#bf6a2c" stroke="#bf6a2c" stroke-width="0.6"/>
<path d="M83.30,289.76L85.50,293.56L81.10,293.56Z" fill="#bf6a2c" stroke="#bf6a2c" stroke-width="0.6"/>
<path d="M101.44,284.82L103.64,288.62L99.24,288.62Z" fill="#bf6a2c" stroke="#bf6a2c" stroke-width="0.6"/>
<path d="M137.71,285.37L139.91,289.17L135.51,289.17Z" fill="#bf6a2c" stroke="#bf6a2c" stroke-width="0.6"/>
<path d="M178.52,286.19L180.72,289.99L176.32,289.99Z" fill="#bf6a2c" stroke="#bf6a2c" stroke-width="0.6"/>
<path d="M221.59,281.52L223.79,285.32L219.39,285.32Z" fill="#bf6a2c" stroke="#bf6a2c" stroke-width="0.6"/>
<path d="M52.93,285.92 L56.10,296.90 L68.80,296.90 L83.30,294.70 L101.44,294.15 L137.71,288.39 L178.52,274.94 L221.59,280.43" fill="none" stroke="#1f3e6c" stroke-width="1.2" stroke-linejoin="round"/>
<path d="M52.93,283.92L54.83,285.92L52.93,287.91L51.03,285.92Z" fill="#1f3e6c" stroke="#1f3e6c" stroke-width="0.6"/>
<path d="M56.10,294.90L58.00,296.90L56.10,298.89L54.20,296.90Z" fill="#1f3e6c" stroke="#1f3e6c" stroke-width="0.6"/>
<path d="M68.80,294.90L70.70,296.90L68.80,298.89L66.90,296.90Z" fill="#1f3e6c" stroke="#1f3e6c" stroke-width="0.6"/>
<path d="M83.30,292.71L85.20,294.70L83.30,296.70L81.40,294.70Z" fill="#1f3e6c" stroke="#1f3e6c" stroke-width="0.6"/>
<path d="M101.44,292.16L103.34,294.15L101.44,296.15L99.54,294.15Z" fill="#1f3e6c" stroke="#1f3e6c" stroke-width="0.6"/>
<path d="M137.71,286.40L139.61,288.39L137.71,290.39L135.81,288.39Z" fill="#1f3e6c" stroke="#1f3e6c" stroke-width="0.6"/>
<path d="M178.52,272.94L180.42,274.94L178.52,276.94L176.62,274.94Z" fill="#1f3e6c" stroke="#1f3e6c" stroke-width="0.6"/>
<path d="M221.59,278.43L223.49,280.43L221.59,282.42L219.69,280.43Z" fill="#1f3e6c" stroke="#1f3e6c" stroke-width="0.6"/>
<path d="M52.93,290.86 L56.10,296.90 L59.27,296.90 L68.80,296.90 L83.30,296.35 L101.44,296.35 L137.71,296.35 L178.52,273.02 L221.59,249.96" fill="none" stroke="#33a4dc" stroke-width="1.2" stroke-linejoin="round"/>
<rect x="51.03" y="288.96" width="3.80" height="3.80" fill="#33a4dc" stroke="#33a4dc" stroke-width="0.6"/>
<rect x="54.20" y="295.00" width="3.80" height="3.80" fill="#33a4dc" stroke="#33a4dc" stroke-width="0.6"/>
<rect x="57.37" y="295.00" width="3.80" height="3.80" fill="#33a4dc" stroke="#33a4dc" stroke-width="0.6"/>
<rect x="66.90" y="295.00" width="3.80" height="3.80" fill="#33a4dc" stroke="#33a4dc" stroke-width="0.6"/>
<rect x="81.40" y="294.45" width="3.80" height="3.80" fill="#33a4dc" stroke="#33a4dc" stroke-width="0.6"/>
<rect x="99.54" y="294.45" width="3.80" height="3.80" fill="#33a4dc" stroke="#33a4dc" stroke-width="0.6"/>
<rect x="135.81" y="294.45" width="3.80" height="3.80" fill="#33a4dc" stroke="#33a4dc" stroke-width="0.6"/>
<rect x="176.62" y="271.12" width="3.80" height="3.80" fill="#33a4dc" stroke="#33a4dc" stroke-width="0.6"/>
<rect x="219.69" y="248.06" width="3.80" height="3.80" fill="#33a4dc" stroke="#33a4dc" stroke-width="0.6"/>
<path d="M52.93,280.43 L56.10,296.90 L68.80,296.90 L83.30,249.69 L101.44,269.72 L137.71,279.06 L178.52,254.35" fill="none" stroke="#f09a22" stroke-width="1.2" stroke-linejoin="round"/>
<circle cx="52.93" cy="280.43" r="1.90" fill="#f09a22" stroke="#f09a22" stroke-width="0.6"/>
<circle cx="56.10" cy="296.90" r="1.90" fill="#f09a22" stroke="#f09a22" stroke-width="0.6"/>
<circle cx="68.80" cy="296.90" r="1.90" fill="#f09a22" stroke="#f09a22" stroke-width="0.6"/>
<circle cx="83.30" cy="249.69" r="1.90" fill="#f09a22" stroke="#f09a22" stroke-width="0.6"/>
<circle cx="101.44" cy="269.72" r="1.90" fill="#f09a22" stroke="#f09a22" stroke-width="0.6"/>
<circle cx="137.71" cy="279.06" r="1.90" fill="#f09a22" stroke="#f09a22" stroke-width="0.6"/>
<circle cx="178.52" cy="254.35" r="1.90" fill="#f09a22" stroke="#f09a22" stroke-width="0.6"/>
<path d="M52.93,186.43 L56.10,296.90 L59.27,296.90 L68.80,296.90 L83.30,266.43 L101.44,288.12" fill="none" stroke="#cf2784" stroke-width="1.2" stroke-linejoin="round"/>
<circle cx="52.93" cy="186.43" r="2.20" fill="none" stroke="#cf2784" stroke-width="1.1"/>
<circle cx="56.10" cy="296.90" r="2.20" fill="none" stroke="#cf2784" stroke-width="1.1"/>
<circle cx="59.27" cy="296.90" r="2.20" fill="none" stroke="#cf2784" stroke-width="1.1"/>
<circle cx="68.80" cy="296.90" r="2.20" fill="none" stroke="#cf2784" stroke-width="1.1"/>
<circle cx="83.30" cy="266.43" r="2.20" fill="none" stroke="#cf2784" stroke-width="1.1"/>
<circle cx="101.44" cy="288.12" r="2.20" fill="none" stroke="#cf2784" stroke-width="1.1"/>
<path d="M52.93,257.37 L56.10,296.90 L59.27,296.90 L62.45,296.90 L68.80,296.90 L83.30,282.63 L101.44,288.94 L137.71,290.31 L178.52,282.08 L221.59,280.43" fill="none" stroke="#c5102e" stroke-width="1.6" stroke-linejoin="round"/>
<path d="M52.93,280.43V228.27M50.63,228.27h4.6M50.63,280.43h4.6" stroke="#c5102e" stroke-width="1" fill="none"/>
<path d="M83.30,287.02V277.41M81.00,277.41h4.6M81.00,287.02h4.6" stroke="#c5102e" stroke-width="1" fill="none"/>
<path d="M221.59,287.29V273.84M219.29,273.84h4.6M219.29,287.29h4.6" stroke="#c5102e" stroke-width="1" fill="none"/>
<circle cx="52.93" cy="257.37" r="2.45" fill="#c5102e" stroke="#c5102e" stroke-width="0.6"/>
<circle cx="56.10" cy="296.90" r="2.45" fill="#c5102e" stroke="#c5102e" stroke-width="0.6"/>
<circle cx="59.27" cy="296.90" r="2.45" fill="#c5102e" stroke="#c5102e" stroke-width="0.6"/>
<circle cx="62.45" cy="296.90" r="2.45" fill="#c5102e" stroke="#c5102e" stroke-width="0.6"/>
<circle cx="68.80" cy="296.90" r="2.45" fill="#c5102e" stroke="#c5102e" stroke-width="0.6"/>
<circle cx="83.30" cy="282.63" r="2.45" fill="#c5102e" stroke="#c5102e" stroke-width="0.6"/>
<circle cx="101.44" cy="288.94" r="2.45" fill="#c5102e" stroke="#c5102e" stroke-width="0.6"/>
<circle cx="137.71" cy="290.31" r="2.45" fill="#c5102e" stroke="#c5102e" stroke-width="0.6"/>
<circle cx="178.52" cy="282.08" r="2.45" fill="#c5102e" stroke="#c5102e" stroke-width="0.6"/>
<circle cx="221.59" cy="280.43" r="2.45" fill="#c5102e" stroke="#c5102e" stroke-width="0.6"/>
</g>
<line x1="290.3" y1="177.0" x2="290.3" y2="297.3" stroke="#2e2e2e" stroke-width="1.25"/>
<line x1="287.1" y1="297.20" x2="290.3" y2="297.20" stroke="#2e2e2e" stroke-width="0.9"/>
<text transform="translate(284.00,299.85) scale(1.13,1)" x="0" y="0" font-size="7.4" text-anchor="end" fill="#262626" stroke="#262626" stroke-width="0.18">0</text>
<line x1="287.1" y1="257.80" x2="290.3" y2="257.80" stroke="#2e2e2e" stroke-width="0.9"/>
<text transform="translate(284.00,260.45) scale(1.13,1)" x="0" y="0" font-size="7.4" text-anchor="end" fill="#262626" stroke="#262626" stroke-width="0.18">500</text>
<line x1="287.1" y1="218.40" x2="290.3" y2="218.40" stroke="#2e2e2e" stroke-width="0.9"/>
<text transform="translate(284.00,221.05) scale(1.13,1)" x="0" y="0" font-size="7.4" text-anchor="end" fill="#262626" stroke="#262626" stroke-width="0.18">1000</text>
<line x1="287.1" y1="179.00" x2="290.3" y2="179.00" stroke="#2e2e2e" stroke-width="0.9"/>
<text transform="translate(284.00,181.65) scale(1.13,1)" x="0" y="0" font-size="7.4" text-anchor="end" fill="#262626" stroke="#262626" stroke-width="0.18">1500</text>
<line x1="290.3" y1="297.3" x2="467.0" y2="297.3" stroke="#2e2e2e" stroke-width="1.25"/>
<line x1="294.40" y1="297.3" x2="294.40" y2="300.3" stroke="#2e2e2e" stroke-width="0.9"/>
<text transform="translate(294.40,311.3) scale(1.13,1)" x="0" y="0" font-size="7.4" text-anchor="middle" fill="#262626" stroke="#262626" stroke-width="0.18">0</text>
<line x1="305.76" y1="297.3" x2="305.76" y2="300.3" stroke="#2e2e2e" stroke-width="0.9"/>
<line x1="317.13" y1="297.3" x2="317.13" y2="300.3" stroke="#2e2e2e" stroke-width="0.9"/>
<text transform="translate(317.13,311.3) scale(1.13,1)" x="0" y="0" font-size="7.4" text-anchor="middle" fill="#262626" stroke="#262626" stroke-width="0.18">50</text>
<line x1="328.50" y1="297.3" x2="328.50" y2="300.3" stroke="#2e2e2e" stroke-width="0.9"/>
<line x1="339.86" y1="297.3" x2="339.86" y2="300.3" stroke="#2e2e2e" stroke-width="0.9"/>
<text transform="translate(339.86,311.3) scale(1.13,1)" x="0" y="0" font-size="7.4" text-anchor="middle" fill="#262626" stroke="#262626" stroke-width="0.18">100</text>
<line x1="351.22" y1="297.3" x2="351.22" y2="300.3" stroke="#2e2e2e" stroke-width="0.9"/>
<line x1="362.59" y1="297.3" x2="362.59" y2="300.3" stroke="#2e2e2e" stroke-width="0.9"/>
<text transform="translate(362.59,311.3) scale(1.13,1)" x="0" y="0" font-size="7.4" text-anchor="middle" fill="#262626" stroke="#262626" stroke-width="0.18">150</text>
<line x1="373.95" y1="297.3" x2="373.95" y2="300.3" stroke="#2e2e2e" stroke-width="0.9"/>
<line x1="385.32" y1="297.3" x2="385.32" y2="300.3" stroke="#2e2e2e" stroke-width="0.9"/>
<text transform="translate(385.32,311.3) scale(1.13,1)" x="0" y="0" font-size="7.4" text-anchor="middle" fill="#262626" stroke="#262626" stroke-width="0.18">200</text>
<line x1="396.68" y1="297.3" x2="396.68" y2="300.3" stroke="#2e2e2e" stroke-width="0.9"/>
<line x1="408.05" y1="297.3" x2="408.05" y2="300.3" stroke="#2e2e2e" stroke-width="0.9"/>
<text transform="translate(408.05,311.3) scale(1.13,1)" x="0" y="0" font-size="7.4" text-anchor="middle" fill="#262626" stroke="#262626" stroke-width="0.18">250</text>
<line x1="419.41" y1="297.3" x2="419.41" y2="300.3" stroke="#2e2e2e" stroke-width="0.9"/>
<line x1="430.78" y1="297.3" x2="430.78" y2="300.3" stroke="#2e2e2e" stroke-width="0.9"/>
<text transform="translate(430.78,311.3) scale(1.13,1)" x="0" y="0" font-size="7.4" text-anchor="middle" fill="#262626" stroke="#262626" stroke-width="0.18">300</text>
<line x1="442.14" y1="297.3" x2="442.14" y2="300.3" stroke="#2e2e2e" stroke-width="0.9"/>
<line x1="453.51" y1="297.3" x2="453.51" y2="300.3" stroke="#2e2e2e" stroke-width="0.9"/>
<text transform="translate(453.51,311.3) scale(1.13,1)" x="0" y="0" font-size="7.4" text-anchor="middle" fill="#262626" stroke="#262626" stroke-width="0.18">350</text>
<line x1="464.88" y1="297.3" x2="464.88" y2="300.3" stroke="#2e2e2e" stroke-width="0.9"/>
<text transform="translate(378.50,325.0) scale(0.6706652126499455,1)" x="0" y="0" font-size="10.0" text-anchor="middle" fill="#262626" stroke="#262626" stroke-width="0.3">Days post-transplant</text>
<text transform="translate(256.6,236.6) rotate(-90) scale(0.8235804074555699,1)" x="0" y="0" font-size="9.0" text-anchor="middle" fill="#262626" stroke="#262626" stroke-width="0.3">NK cells (cells/µl)</text>
<path d="M291.22,292.47 L294.40,297.20 L339.86,290.90 L376.23,289.32 L417.14,289.32 L460.33,288.53" fill="none" stroke="#d2c0d6" stroke-width="1.2" stroke-linejoin="round"/>
<path d="M291.22,290.27L293.32,292.47L291.22,294.68L289.12,292.47Z" fill="none" stroke="#d2c0d6" stroke-width="1.1"/>
<path d="M294.40,295.00L296.50,297.20L294.40,299.40L292.30,297.20Z" fill="none" stroke="#d2c0d6" stroke-width="1.1"/>
<path d="M339.86,288.69L341.96,290.90L339.86,293.10L337.76,290.90Z" fill="none" stroke="#d2c0d6" stroke-width="1.1"/>
<path d="M376.23,287.12L378.33,289.32L376.23,291.52L374.13,289.32Z" fill="none" stroke="#d2c0d6" stroke-width="1.1"/>
<path d="M417.14,287.12L419.24,289.32L417.14,291.52L415.04,289.32Z" fill="none" stroke="#d2c0d6" stroke-width="1.1"/>
<path d="M460.33,286.33L462.43,288.53L460.33,290.74L458.23,288.53Z" fill="none" stroke="#d2c0d6" stroke-width="1.1"/>
<path d="M291.22,290.11 L294.40,297.20 L307.13,290.90 L321.68,264.50 L339.86,285.38 L376.23,289.32 L417.14,287.74 L460.33,283.80" fill="none" stroke="#b2b07a" stroke-width="1.2" stroke-linejoin="round"/>
<path d="M291.22,292.53L293.64,288.35L288.80,288.35Z" fill="none" stroke="#b2b07a" stroke-width="1.1"/>
<path d="M294.40,299.62L296.82,295.44L291.98,295.44Z" fill="none" stroke="#b2b07a" stroke-width="1.1"/>
<path d="M307.13,293.32L309.55,289.14L304.71,289.14Z" fill="none" stroke="#b2b07a" stroke-width="1.1"/>
<path d="M321.68,266.92L324.10,262.74L319.26,262.74Z" fill="none" stroke="#b2b07a" stroke-width="1.1"/>
<path d="M339.86,287.80L342.28,283.62L337.44,283.62Z" fill="none" stroke="#b2b07a" stroke-width="1.1"/>
<path d="M376.23,291.74L378.65,287.56L373.81,287.56Z" fill="none" stroke="#b2b07a" stroke-width="1.1"/>
<path d="M417.14,290.16L419.56,285.98L414.72,285.98Z" fill="none" stroke="#b2b07a" stroke-width="1.1"/>
<path d="M460.33,286.22L462.75,282.04L457.91,282.04Z" fill="none" stroke="#b2b07a" stroke-width="1.1"/>
<path d="M291.22,290.90 L294.40,297.20 L307.13,295.62 L321.68,292.47" fill="none" stroke="#55558f" stroke-width="1.2" stroke-linejoin="round"/>
<path d="M291.22,288.59L293.53,292.58L288.91,292.58Z" fill="none" stroke="#55558f" stroke-width="1.1"/>
<path d="M294.40,294.89L296.71,298.88L292.09,298.88Z" fill="none" stroke="#55558f" stroke-width="1.1"/>
<path d="M307.13,293.31L309.44,297.30L304.82,297.30Z" fill="none" stroke="#55558f" stroke-width="1.1"/>
<path d="M321.68,290.16L323.99,294.15L319.37,294.15Z" fill="none" stroke="#55558f" stroke-width="1.1"/>
<path d="M291.22,287.74 L294.40,297.20 L307.13,293.26 L321.68,274.35 L339.86,277.50 L376.23,296.02 L417.14,286.17 L460.33,291.84" fill="none" stroke="#f3b531" stroke-width="1.2" stroke-linejoin="round"/>
<rect x="289.32" y="285.84" width="3.80" height="3.80" fill="none" stroke="#f3b531" stroke-width="1.1"/>
<rect x="292.50" y="295.30" width="3.80" height="3.80" fill="none" stroke="#f3b531" stroke-width="1.1"/>
<rect x="305.23" y="291.36" width="3.80" height="3.80" fill="none" stroke="#f3b531" stroke-width="1.1"/>
<rect x="319.78" y="272.45" width="3.80" height="3.80" fill="none" stroke="#f3b531" stroke-width="1.1"/>
<rect x="337.96" y="275.60" width="3.80" height="3.80" fill="none" stroke="#f3b531" stroke-width="1.1"/>
<rect x="374.33" y="294.12" width="3.80" height="3.80" fill="none" stroke="#f3b531" stroke-width="1.1"/>
<rect x="415.24" y="284.27" width="3.80" height="3.80" fill="none" stroke="#f3b531" stroke-width="1.1"/>
<rect x="458.43" y="289.94" width="3.80" height="3.80" fill="none" stroke="#f3b531" stroke-width="1.1"/>
<path d="M291.22,289.32 L294.40,297.20 L307.13,294.84 L321.68,295.62 L339.86,291.84 L376.23,288.37 L417.14,277.50 L460.33,229.20" fill="none" stroke="#3aab48" stroke-width="1.2" stroke-linejoin="round"/>
<path d="M291.22,291.52L293.42,287.72L289.02,287.72Z" fill="#3aab48" stroke="#3aab48" stroke-width="0.6"/>
<path d="M294.40,299.40L296.60,295.60L292.20,295.60Z" fill="#3aab48" stroke="#3aab48" stroke-width="0.6"/>
<path d="M307.13,297.04L309.33,293.24L304.93,293.24Z" fill="#3aab48" stroke="#3aab48" stroke-width="0.6"/>
<path d="M321.68,297.82L323.88,294.02L319.48,294.02Z" fill="#3aab48" stroke="#3aab48" stroke-width="0.6"/>
<path d="M339.86,294.04L342.06,290.24L337.66,290.24Z" fill="#3aab48" stroke="#3aab48" stroke-width="0.6"/>
<path d="M376.23,290.57L378.43,286.77L374.03,286.77Z" fill="#3aab48" stroke="#3aab48" stroke-width="0.6"/>
<path d="M417.14,279.70L419.34,275.90L414.94,275.90Z" fill="#3aab48" stroke="#3aab48" stroke-width="0.6"/>
<path d="M460.33,231.40L462.53,227.60L458.13,227.60Z" fill="#3aab48" stroke="#3aab48" stroke-width="0.6"/>
<path d="M291.22,281.44 L294.40,297.20 L307.13,289.32 L321.68,285.38 L339.86,279.08 L376.23,280.42 L417.14,273.56" fill="none" stroke="#bf6a2c" stroke-width="1.2" stroke-linejoin="round"/>
<path d="M291.22,279.24L293.42,283.04L289.02,283.04Z" fill="#bf6a2c" stroke="#bf6a2c" stroke-width="0.6"/>
<path d="M294.40,295.00L296.60,298.80L292.20,298.80Z" fill="#bf6a2c" stroke="#bf6a2c" stroke-width="0.6"/>
<path d="M307.13,287.12L309.33,290.92L304.93,290.92Z" fill="#bf6a2c" stroke="#bf6a2c" stroke-width="0.6"/>
<path d="M321.68,283.18L323.88,286.98L319.48,286.98Z" fill="#bf6a2c" stroke="#bf6a2c" stroke-width="0.6"/>
<path d="M339.86,276.88L342.06,280.68L337.66,280.68Z" fill="#bf6a2c" stroke="#bf6a2c" stroke-width="0.6"/>
<path d="M376.23,278.22L378.43,282.02L374.03,282.02Z" fill="#bf6a2c" stroke="#bf6a2c" stroke-width="0.6"/>
<path d="M417.14,271.36L419.34,275.16L414.94,275.16Z" fill="#bf6a2c" stroke="#bf6a2c" stroke-width="0.6"/>
<path d="M291.22,285.38 L294.40,297.20 L307.13,287.74 L321.68,285.38 L339.86,254.81 L376.23,288.93 L417.14,266.23 L460.33,218.40" fill="none" stroke="#1f3e6c" stroke-width="1.2" stroke-linejoin="round"/>
<path d="M291.22,283.38L293.12,285.38L291.22,287.38L289.32,285.38Z" fill="#1f3e6c" stroke="#1f3e6c" stroke-width="0.6"/>
<path d="M294.40,295.20L296.30,297.20L294.40,299.19L292.50,297.20Z" fill="#1f3e6c" stroke="#1f3e6c" stroke-width="0.6"/>
<path d="M307.13,285.75L309.03,287.74L307.13,289.74L305.23,287.74Z" fill="#1f3e6c" stroke="#1f3e6c" stroke-width="0.6"/>
<path d="M321.68,283.38L323.58,285.38L321.68,287.38L319.78,285.38Z" fill="#1f3e6c" stroke="#1f3e6c" stroke-width="0.6"/>
<path d="M339.86,252.81L341.76,254.81L339.86,256.80L337.96,254.81Z" fill="#1f3e6c" stroke="#1f3e6c" stroke-width="0.6"/>
<path d="M376.23,286.93L378.13,288.93L376.23,290.92L374.33,288.93Z" fill="#1f3e6c" stroke="#1f3e6c" stroke-width="0.6"/>
<path d="M417.14,264.24L419.04,266.23L417.14,268.23L415.24,266.23Z" fill="#1f3e6c" stroke="#1f3e6c" stroke-width="0.6"/>
<path d="M460.33,216.40L462.23,218.40L460.33,220.39L458.43,218.40Z" fill="#1f3e6c" stroke="#1f3e6c" stroke-width="0.6"/>
<path d="M291.22,293.26 L294.40,297.20 L307.13,295.62 L321.68,289.32 L339.86,281.83 L376.23,268.99 L417.14,285.22 L460.33,282.39" fill="none" stroke="#33a4dc" stroke-width="1.2" stroke-linejoin="round"/>
<rect x="289.32" y="291.36" width="3.80" height="3.80" fill="#33a4dc" stroke="#33a4dc" stroke-width="0.6"/>
<rect x="292.50" y="295.30" width="3.80" height="3.80" fill="#33a4dc" stroke="#33a4dc" stroke-width="0.6"/>
<rect x="305.23" y="293.72" width="3.80" height="3.80" fill="#33a4dc" stroke="#33a4dc" stroke-width="0.6"/>
<rect x="319.78" y="287.42" width="3.80" height="3.80" fill="#33a4dc" stroke="#33a4dc" stroke-width="0.6"/>
<rect x="337.96" y="279.93" width="3.80" height="3.80" fill="#33a4dc" stroke="#33a4dc" stroke-width="0.6"/>
<rect x="374.33" y="267.09" width="3.80" height="3.80" fill="#33a4dc" stroke="#33a4dc" stroke-width="0.6"/>
<rect x="415.24" y="283.32" width="3.80" height="3.80" fill="#33a4dc" stroke="#33a4dc" stroke-width="0.6"/>
<rect x="458.43" y="280.49" width="3.80" height="3.80" fill="#33a4dc" stroke="#33a4dc" stroke-width="0.6"/>
<path d="M291.22,283.02 L294.40,297.20 L307.13,262.92 L321.68,269.62 L339.86,276.71 L376.23,279.47 L417.14,218.40" fill="none" stroke="#f09a22" stroke-width="1.2" stroke-linejoin="round"/>
<circle cx="291.22" cy="283.02" r="1.90" fill="#f09a22" stroke="#f09a22" stroke-width="0.6"/>
<circle cx="294.40" cy="297.20" r="1.90" fill="#f09a22" stroke="#f09a22" stroke-width="0.6"/>
<circle cx="307.13" cy="262.92" r="1.90" fill="#f09a22" stroke="#f09a22" stroke-width="0.6"/>
<circle cx="321.68" cy="269.62" r="1.90" fill="#f09a22" stroke="#f09a22" stroke-width="0.6"/>
<circle cx="339.86" cy="276.71" r="1.90" fill="#f09a22" stroke="#f09a22" stroke-width="0.6"/>
<circle cx="376.23" cy="279.47" r="1.90" fill="#f09a22" stroke="#f09a22" stroke-width="0.6"/>
<circle cx="417.14" cy="218.40" r="1.90" fill="#f09a22" stroke="#f09a22" stroke-width="0.6"/>
<path d="M291.22,260.16 L294.40,297.20 L297.58,293.26 L307.13,289.32 L321.68,290.90 L339.86,226.91" fill="none" stroke="#cf2784" stroke-width="1.2" stroke-linejoin="round"/>
<circle cx="291.22" cy="260.16" r="2.20" fill="none" stroke="#cf2784" stroke-width="1.1"/>
<circle cx="294.40" cy="297.20" r="2.20" fill="none" stroke="#cf2784" stroke-width="1.1"/>
<circle cx="297.58" cy="293.26" r="2.20" fill="none" stroke="#cf2784" stroke-width="1.1"/>
<circle cx="307.13" cy="289.32" r="2.20" fill="none" stroke="#cf2784" stroke-width="1.1"/>
<circle cx="321.68" cy="290.90" r="2.20" fill="none" stroke="#cf2784" stroke-width="1.1"/>
<circle cx="339.86" cy="226.91" r="2.20" fill="none" stroke="#cf2784" stroke-width="1.1"/>
<path d="M291.22,286.96 L294.40,295.62 L297.58,295.62 L300.76,294.84 L307.13,285.38 L321.68,283.41 L339.86,274.74 L376.23,287.51 L417.14,272.38 L460.33,266.23" fill="none" stroke="#c5102e" stroke-width="1.6" stroke-linejoin="round"/>
<path d="M339.86,281.83V267.02M337.56,267.02h4.6M337.56,281.83h4.6" stroke="#c5102e" stroke-width="1" fill="none"/>
<path d="M417.14,279.47V265.29M414.84,265.29h4.6M414.84,279.47h4.6" stroke="#c5102e" stroke-width="1" fill="none"/>
<path d="M460.33,280.42V252.84M458.03,252.84h4.6M458.03,280.42h4.6" stroke="#c5102e" stroke-width="1" fill="none"/>
<circle cx="291.22" cy="286.96" r="2.45" fill="#c5102e" stroke="#c5102e" stroke-width="0.6"/>
<circle cx="294.40" cy="295.62" r="2.45" fill="#c5102e" stroke="#c5102e" stroke-width="0.6"/>
<circle cx="297.58" cy="295.62" r="2.45" fill="#c5102e" stroke="#c5102e" stroke-width="0.6"/>
<circle cx="300.76" cy="294.84" r="2.45" fill="#c5102e" stroke="#c5102e" stroke-width="0.6"/>
<circle cx="307.13" cy="285.38" r="2.45" fill="#c5102e" stroke="#c5102e" stroke-width="0.6"/>
<circle cx="321.68" cy="283.41" r="2.45" fill="#c5102e" stroke="#c5102e" stroke-width="0.6"/>
<circle cx="339.86" cy="274.74" r="2.45" fill="#c5102e" stroke="#c5102e" stroke-width="0.6"/>
<circle cx="376.23" cy="287.51" r="2.45" fill="#c5102e" stroke="#c5102e" stroke-width="0.6"/>
<circle cx="417.14" cy="272.38" r="2.45" fill="#c5102e" stroke="#c5102e" stroke-width="0.6"/>
<circle cx="460.33" cy="266.23" r="2.45" fill="#c5102e" stroke="#c5102e" stroke-width="0.6"/>
<line x1="470.8" y1="11.1" x2="480.6" y2="11.1" stroke="#c5102e" stroke-width="1.6"/>
<circle cx="475.70" cy="11.10" r="2.45" fill="#c5102e" stroke="#c5102e" stroke-width="0.6"/>
<text x="483.8" y="13.60" font-size="7.5" text-anchor="start" fill="#262626" stroke="#262626" stroke-width="0.18">NMD</text>
<line x1="470.8" y1="22.6" x2="480.6" y2="22.6" stroke="#33a4dc" stroke-width="1.2"/>
<rect x="473.80" y="20.70" width="3.80" height="3.80" fill="#33a4dc" stroke="#33a4dc" stroke-width="0.6"/>
<text x="483.8" y="25.10" font-size="7.5" text-anchor="start" fill="#262626" stroke="#262626" stroke-width="0.18">001-001</text>
<line x1="470.8" y1="34.2" x2="480.6" y2="34.2" stroke="#bf6a2c" stroke-width="1.2"/>
<path d="M475.70,32.00L477.90,35.80L473.50,35.80Z" fill="#bf6a2c" stroke="#bf6a2c" stroke-width="0.6"/>
<text x="483.8" y="36.70" font-size="7.5" text-anchor="start" fill="#262626" stroke="#262626" stroke-width="0.18">001-002</text>
<line x1="470.8" y1="45.8" x2="480.6" y2="45.8" stroke="#3aab48" stroke-width="1.2"/>
<path d="M475.70,48.00L477.90,44.20L473.50,44.20Z" fill="#3aab48" stroke="#3aab48" stroke-width="0.6"/>
<text x="483.8" y="48.30" font-size="7.5" text-anchor="start" fill="#262626" stroke="#262626" stroke-width="0.18">001-003</text>
<line x1="470.8" y1="57.5" x2="480.6" y2="57.5" stroke="#1f3e6c" stroke-width="1.2"/>
<path d="M475.70,55.51L477.60,57.50L475.70,59.49L473.80,57.50Z" fill="#1f3e6c" stroke="#1f3e6c" stroke-width="0.6"/>
<text x="483.8" y="60.00" font-size="7.5" text-anchor="start" fill="#262626" stroke="#262626" stroke-width="0.18">001-004</text>
<line x1="470.8" y1="69.1" x2="480.6" y2="69.1" stroke="#cf2784" stroke-width="1.2"/>
<circle cx="475.70" cy="69.10" r="2.20" fill="none" stroke="#cf2784" stroke-width="1.1"/>
<text x="483.8" y="71.60" font-size="7.5" text-anchor="start" fill="#262626" stroke="#262626" stroke-width="0.18">001-005</text>
<line x1="470.8" y1="80.7" x2="480.6" y2="80.7" stroke="#f3b531" stroke-width="1.2"/>
<rect x="473.80" y="78.80" width="3.80" height="3.80" fill="none" stroke="#f3b531" stroke-width="1.1"/>
<text x="483.8" y="83.20" font-size="7.5" text-anchor="start" fill="#262626" stroke="#262626" stroke-width="0.18">001-006</text>
<line x1="470.8" y1="92.3" x2="480.6" y2="92.3" stroke="#55558f" stroke-width="1.2"/>
<path d="M475.70,89.99L478.01,93.98L473.39,93.98Z" fill="none" stroke="#55558f" stroke-width="1.1"/>
<text x="483.8" y="94.80" font-size="7.5" text-anchor="start" fill="#262626" stroke="#262626" stroke-width="0.18">001-007</text>
<line x1="470.8" y1="103.9" x2="480.6" y2="103.9" stroke="#b2b07a" stroke-width="1.2"/>
<path d="M475.70,106.32L478.12,102.14L473.28,102.14Z" fill="none" stroke="#b2b07a" stroke-width="1.1"/>
<text x="483.8" y="106.40" font-size="7.5" text-anchor="start" fill="#262626" stroke="#262626" stroke-width="0.18">001-008</text>
<line x1="470.8" y1="115.6" x2="480.6" y2="115.6" stroke="#d2c0d6" stroke-width="1.2"/>
<path d="M475.70,113.39L477.80,115.60L475.70,117.80L473.60,115.60Z" fill="none" stroke="#d2c0d6" stroke-width="1.1"/>
<text x="483.8" y="118.10" font-size="7.5" text-anchor="start" fill="#262626" stroke="#262626" stroke-width="0.18">001-009</text>
<line x1="470.8" y1="127.2" x2="480.6" y2="127.2" stroke="#f09a22" stroke-width="1.2"/>
<circle cx="475.70" cy="127.20" r="1.90" fill="#f09a22" stroke="#f09a22" stroke-width="0.6"/>
<text x="483.8" y="129.70" font-size="7.5" text-anchor="start" fill="#262626" stroke="#262626" stroke-width="0.18">001-010</text>
<rect x="0.5" y="0.5" width="519" height="333" fill="none" stroke="#5e5e5e" stroke-width="1.2"/>
</svg>
</body></html>
